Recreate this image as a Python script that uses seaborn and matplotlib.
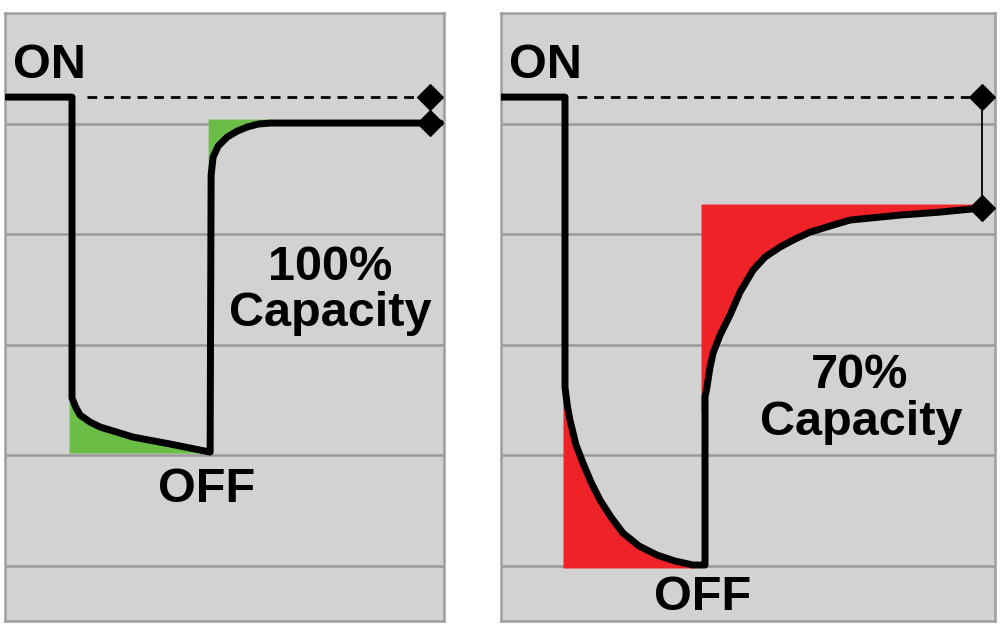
import matplotlib
matplotlib.use("Agg")
import matplotlib.pyplot as plt
import seaborn as sns
import pandas as pd

# battery voltage traces (x: time units, y: grid units)
full_t = [0.018, 0.606, 0.606, 0.643, 0.679, 0.769, 0.860, 1.158, 1.493, 1.855,
          1.864, 1.882, 1.928, 2.009, 2.100, 2.190, 2.290, 2.398, 3.937]
full_v = [4.742, 4.742, 2.018, 1.928, 1.864, 1.801, 1.756, 1.665, 1.602, 1.529,
          4.036, 4.199, 4.299, 4.380, 4.434, 4.471, 4.498, 4.507, 4.507]

weak_t = [0.0, 0.579, 0.579, 0.600, 0.624, 0.679, 0.742, 0.814, 0.896, 0.995, 1.104,
          1.249, 1.412, 1.575, 1.738, 1.846, 1.846, 1.864, 1.890, 1.919, 1.982, 2.072,
          2.163, 2.281, 2.389, 2.525, 2.661, 2.796, 2.977, 3.158, 3.611, 3.973, 4.353]
weak_v = [4.742, 4.742, 2.118, 1.950, 1.819, 1.593, 1.430, 1.258, 1.095, 0.941, 0.796,
          0.679, 0.597, 0.543, 0.507, 0.507, 2.027, 2.118, 2.290, 2.425, 2.588, 2.769,
          2.977, 3.176, 3.294, 3.385, 3.457, 3.520, 3.575, 3.629, 3.674, 3.701, 3.738]

# shaded areas (green = small losses, red = big losses)
full_drop_t = [0.579, 0.606, 0.643, 0.679, 0.769, 0.860, 1.158, 1.493, 1.855]
full_drop_v = [2.271, 2.018, 1.928, 1.864, 1.801, 1.756, 1.665, 1.602, 1.529]
full_drop_base = 1.52
full_rec_t = [1.837, 1.882, 1.928, 2.009, 2.100, 2.190, 2.290, 2.398]
full_rec_v = [4.030, 4.199, 4.299, 4.380, 4.434, 4.471, 4.498, 4.507]
full_rec_top = 4.543

weak_drop_t = [0.561, 0.579, 0.600, 0.624, 0.679, 0.742, 0.814, 0.896, 0.995, 1.104,
               1.249, 1.412, 1.575, 1.738]
weak_drop_v = [2.118, 2.118, 1.950, 1.819, 1.593, 1.430, 1.258, 1.095, 0.941, 0.796,
               0.679, 0.597, 0.543, 0.507]
weak_drop_base = 0.48
weak_rec_t = [1.810, 1.864, 1.890, 1.919, 1.982, 2.072, 2.163, 2.281, 2.389, 2.525,
              2.661, 2.796, 2.977, 3.158, 3.611, 3.973, 4.353]
weak_rec_v = [1.882, 2.118, 2.290, 2.425, 2.588, 2.769, 2.977, 3.176, 3.294, 3.385,
              3.457, 3.520, 3.575, 3.629, 3.674, 3.701, 3.738]
weak_rec_top = 3.774

on_level = 4.742
full_end, weak_end = 4.507, 3.738
full_mark_t, weak_mark_t = 3.846, 4.353
full_dash_start, weak_dash_start = 0.742, 0.688

labels_full = ["100%", "Capacity"]
labels_weak = ["70%", "Capacity"]

sns.set_theme(style="whitegrid", rc={
    "axes.facecolor": "#d3d2d3",
    "axes.edgecolor": "#9e9e9e",
    "axes.linewidth": 1.8,
    "grid.color": "#999999",
    "grid.linewidth": 1.8,
})
plt.rcParams["font.family"] = ["Liberation Sans", "DejaVu Sans"]

fig = plt.figure(figsize=(10, 6.35), dpi=100)
ax1 = fig.add_axes([0.005, 0.022, 0.439, 0.957])
ax2 = fig.add_axes([0.501, 0.022, 0.494, 0.957])

green = "#6abd45"
red = "#ee2227"
txt = dict(fontsize=35, fontweight="bold", color="black")


def panel(ax, t, v, drop_t, drop_v, drop_base, rec_t, rec_v, rec_top, color,
          mark_t, end_v, dash_start, conn_color, conn_lw):
    ax.fill_between(drop_t, drop_v, drop_base, color=color, lw=0, zorder=1)
    ax.fill_between(rec_t, rec_v, rec_top, color=color, lw=0, zorder=1)
    ax.plot([dash_start, mark_t], [on_level, on_level], color="black", lw=2,
            linestyle=(0, (3.5, 2.5)), zorder=2)
    ax.plot([mark_t, mark_t], [on_level, end_v], color=conn_color, lw=conn_lw, zorder=2)
    df = pd.DataFrame({"t": t, "v": v})
    sns.lineplot(data=df, x="t", y="v", sort=False, estimator=None, ax=ax,
                 color="black", lw=5, zorder=3)
    marks = pd.DataFrame({"t": [mark_t, mark_t], "v": [on_level, end_v]})
    sns.scatterplot(data=marks, x="t", y="v", marker="D", s=170, color="black",
                    edgecolor="black", ax=ax, zorder=4)
    ax.set_ylim(0, 5.5)
    ax.set_yticks([0.5, 1.5, 2.5, 3.5, 4.5])
    ax.set_xticks([])
    ax.grid(axis="x", visible=False)
    ax.tick_params(length=0, labelleft=False, labelbottom=False)
    ax.set_xlabel("")
    ax.set_ylabel("")
    ax.text(0.072, 4.914, "ON", ha="left", va="baseline", **txt)


panel(ax1, full_t, full_v, full_drop_t, full_drop_v, full_drop_base,
      full_rec_t, full_rec_v, full_rec_top, green,
      full_mark_t, full_end, full_dash_start, "#8a8a8a", 1.2)
ax1.set_xlim(0, 3.97)
ax1.text(2.941, 3.086, labels_full[0], ha="center", va="baseline", **txt)
ax1.text(2.941, 2.670, labels_full[1], ha="center", va="baseline", **txt)
ax1.text(1.819, 1.077, "OFF", ha="center", va="baseline", **txt)

panel(ax2, weak_t, weak_v, weak_drop_t, weak_drop_v, weak_drop_base,
      weak_rec_t, weak_rec_v, weak_rec_top, red,
      weak_mark_t, weak_end, weak_dash_start, "black", 1.3)
ax2.set_xlim(0, 4.47)
ax2.text(3.249, 2.109, labels_weak[0], ha="center", va="baseline", **txt)
ax2.text(3.258, 1.683, labels_weak[1], ha="center", va="baseline", **txt)
ax2.text(1.828, 0.0995, "OFF", ha="center", va="baseline", **txt)

fig.savefig("out.png", dpi=100, facecolor="white")
